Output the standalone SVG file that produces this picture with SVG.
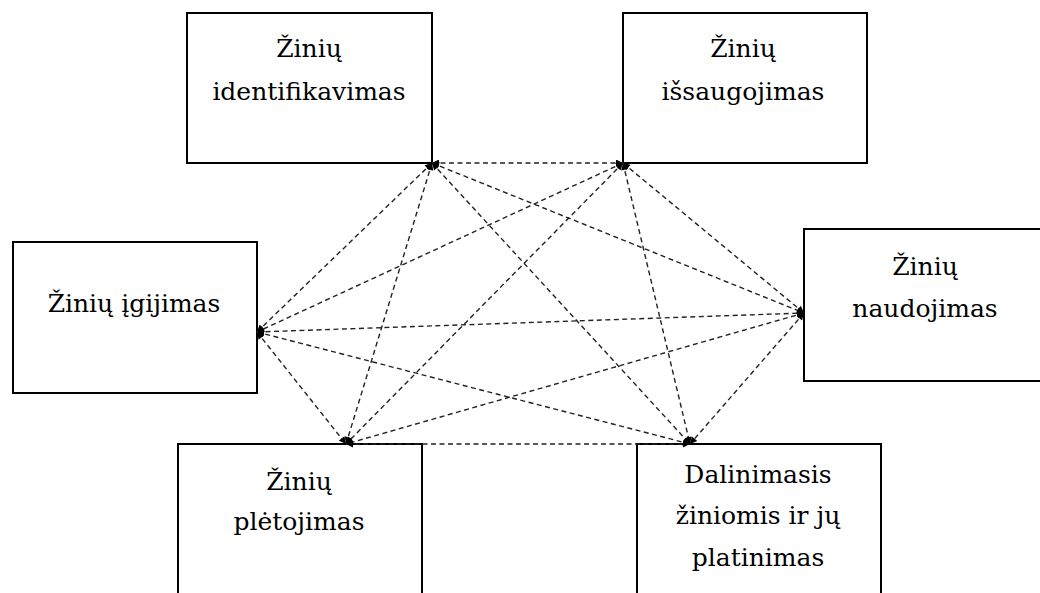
<svg xmlns="http://www.w3.org/2000/svg" width="1040" height="593" viewBox="0 0 1040 593">
<style>
  .box { fill: #ffffff; stroke: #000000; stroke-width: 2; }
  .lbl { font-family: 'DejaVu Serif', serif; font-size: 25px; fill: #000000; text-anchor: middle; }
  .conn { fill: none; stroke: #222222; stroke-width: 1.4; stroke-dasharray: 5 3.5; marker-start: url(#arr); marker-end: url(#arr); }
</style>
<defs>
  <marker id="arr" viewBox="0 0 10 10" refX="10" refY="5" markerWidth="9" markerHeight="7" markerUnits="userSpaceOnUse" orient="auto-start-reverse">
    <path d="M0,0 L10,5 L0,10 z" fill="#000000"/>
  </marker>
</defs>
<rect width="1040" height="593" fill="#ffffff"/>

<g id="node-identifikavimas">
  <rect class="box" x="187" y="13" width="245" height="150"/>
  <text class="lbl" x="309" y="57">Žinių</text>
  <text class="lbl" x="309" y="100">identifikavimas</text>
</g>
<g id="node-issaugojimas">
  <rect class="box" x="623" y="13" width="244" height="150"/>
  <text class="lbl" x="743" y="57">Žinių</text>
  <text class="lbl" x="743" y="100">išsaugojimas</text>
</g>
<g id="node-igijimas">
  <rect class="box" x="13" y="242" width="244" height="151"/>
  <text class="lbl" x="134" y="312">Žinių įgijimas</text>
</g>
<g id="node-naudojimas">
  <rect class="box" x="804" y="229" width="250" height="152"/>
  <text class="lbl" x="925" y="275">Žinių</text>
  <text class="lbl" x="925" y="317">naudojimas</text>
</g>
<g id="node-pletojimas">
  <rect class="box" x="178" y="444" width="244" height="160"/>
  <text class="lbl" x="299" y="490">Žinių</text>
  <text class="lbl" x="299" y="530">plėtojimas</text>
</g>
<g id="node-dalinimasis">
  <rect class="box" x="637" y="444" width="244" height="160"/>
  <text class="lbl" x="758" y="483">Dalinimasis</text>
  <text class="lbl" x="758" y="524">žiniomis ir jų</text>
  <text class="lbl" x="758" y="566">platinimas</text>
</g>

<g id="connectors">
  <line class="conn" x1="432" y1="163" x2="623" y2="163"/>
  <line class="conn" x1="432" y1="163" x2="257" y2="332"/>
  <line class="conn" x1="432" y1="163" x2="804" y2="313"/>
  <line class="conn" x1="432" y1="163" x2="346" y2="444"/>
  <line class="conn" x1="432" y1="163" x2="690" y2="444"/>
  <line class="conn" x1="623" y1="163" x2="257" y2="332"/>
  <line class="conn" x1="623" y1="163" x2="804" y2="313"/>
  <line class="conn" x1="623" y1="163" x2="346" y2="444"/>
  <line class="conn" x1="623" y1="163" x2="690" y2="444"/>
  <line class="conn" x1="257" y1="332" x2="804" y2="313"/>
  <line class="conn" x1="257" y1="332" x2="346" y2="444"/>
  <line class="conn" x1="257" y1="332" x2="690" y2="444"/>
  <line class="conn" x1="804" y1="313" x2="346" y2="444"/>
  <line class="conn" x1="804" y1="313" x2="690" y2="444"/>
  <line class="conn" x1="346" y1="444" x2="690" y2="444"/>
</g>
</svg>
